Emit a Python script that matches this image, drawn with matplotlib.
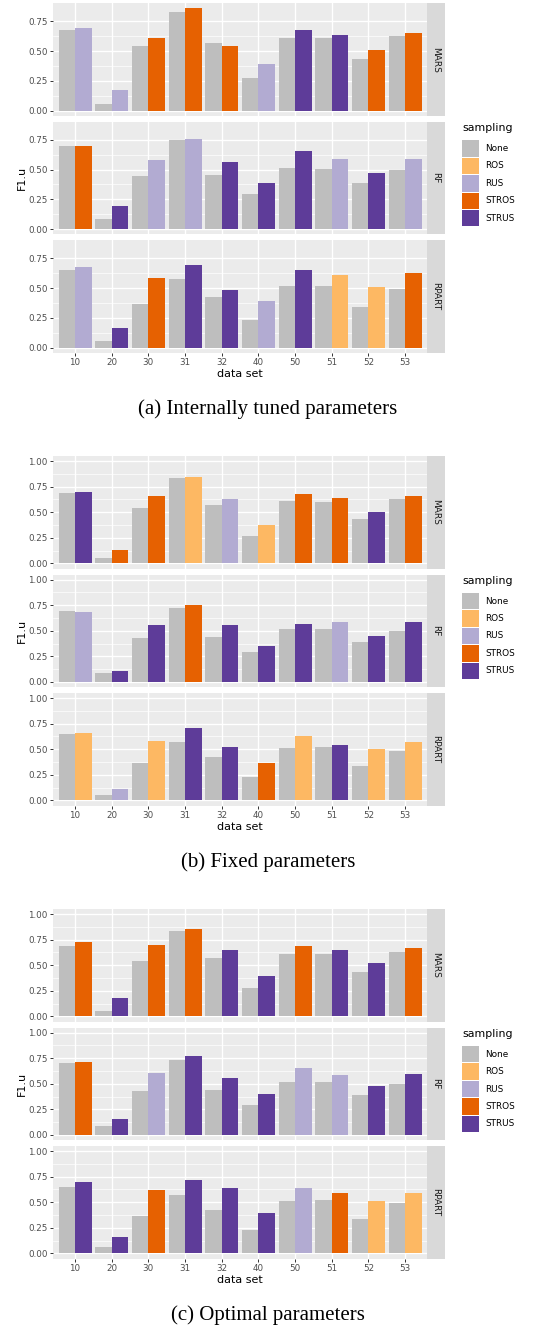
import numpy as np
import matplotlib
matplotlib.use('Agg')
import matplotlib.pyplot as plt
from matplotlib.patches import Rectangle

datasets = ['10', '20', '30', '31', '32', '40', '50', '51', '52', '53']
models = ['MARS', 'RF', 'RPART']
methods = ['None', 'ROS', 'RUS', 'STROS', 'STRUS']
colors = {'None': '#BEBEBE', 'ROS': '#FDB863', 'RUS': '#B2ABD2',
          'STROS': '#E66101', 'STRUS': '#5E3C99'}

# (a) internally tuned parameters
tuned_mars_none = [0.680, 0.053, 0.538, 0.831, 0.571, 0.270, 0.605, 0.605, 0.429, 0.630]
tuned_mars_best = [0.697, 0.170, 0.605, 0.857, 0.538, 0.388, 0.680, 0.638, 0.505, 0.647]
tuned_mars_samp = ['RUS', 'RUS', 'STROS', 'STROS', 'STROS', 'RUS', 'STRUS', 'STRUS', 'STROS', 'STROS']
tuned_rf_none = [0.694, 0.084, 0.443, 0.744, 0.452, 0.293, 0.510, 0.502, 0.385, 0.493]
tuned_rf_best = [0.694, 0.192, 0.577, 0.753, 0.560, 0.385, 0.652, 0.585, 0.468, 0.585]
tuned_rf_samp = ['STROS', 'STRUS', 'RUS', 'RUS', 'STRUS', 'STRUS', 'STRUS', 'RUS', 'STRUS', 'RUS']
tuned_rpart_none = [0.655, 0.053, 0.362, 0.572, 0.421, 0.229, 0.513, 0.521, 0.337, 0.488]
tuned_rpart_best = [0.680, 0.162, 0.580, 0.697, 0.480, 0.388, 0.655, 0.605, 0.505, 0.622]
tuned_rpart_samp = ['RUS', 'STRUS', 'STROS', 'STRUS', 'STRUS', 'RUS', 'STRUS', 'ROS', 'ROS', 'STROS']

# (b) fixed parameters
fixed_mars_none = [0.685, 0.052, 0.539, 0.831, 0.568, 0.266, 0.607, 0.597, 0.432, 0.627]
fixed_mars_best = [0.695, 0.130, 0.656, 0.841, 0.627, 0.373, 0.675, 0.636, 0.500, 0.656]
fixed_mars_samp = ['STRUS', 'STROS', 'STROS', 'ROS', 'RUS', 'ROS', 'STROS', 'STROS', 'STRUS', 'STROS']
fixed_rf_none = [0.698, 0.084, 0.425, 0.727, 0.435, 0.289, 0.513, 0.513, 0.386, 0.494]
fixed_rf_best = [0.688, 0.104, 0.552, 0.747, 0.552, 0.347, 0.562, 0.581, 0.445, 0.581]
fixed_rf_samp = ['RUS', 'STRUS', 'STRUS', 'STROS', 'STRUS', 'STRUS', 'STRUS', 'RUS', 'STRUS', 'STRUS']
fixed_rpart_none = [0.645, 0.049, 0.362, 0.567, 0.420, 0.225, 0.508, 0.518, 0.332, 0.479]
fixed_rpart_best = [0.655, 0.107, 0.577, 0.704, 0.518, 0.362, 0.625, 0.537, 0.498, 0.567]
fixed_rpart_samp = ['ROS', 'RUS', 'ROS', 'STRUS', 'STRUS', 'STROS', 'ROS', 'STRUS', 'ROS', 'ROS']

# (c) optimal parameters
optimal_mars_none = [0.686, 0.049, 0.539, 0.833, 0.569, 0.275, 0.608, 0.608, 0.431, 0.627]
optimal_mars_best = [0.725, 0.176, 0.696, 0.853, 0.647, 0.392, 0.686, 0.647, 0.520, 0.667]
optimal_mars_samp = ['STROS', 'STRUS', 'STROS', 'STROS', 'STRUS', 'STRUS', 'STROS', 'STRUS', 'STRUS', 'STROS']
optimal_rf_none = [0.699, 0.082, 0.425, 0.729, 0.435, 0.288, 0.513, 0.513, 0.386, 0.493]
optimal_rf_best = [0.709, 0.160, 0.601, 0.768, 0.552, 0.395, 0.650, 0.582, 0.474, 0.592]
optimal_rf_samp = ['STROS', 'STRUS', 'RUS', 'STRUS', 'STRUS', 'STRUS', 'RUS', 'RUS', 'STRUS', 'STRUS']
optimal_rpart_none = [0.646, 0.062, 0.364, 0.568, 0.422, 0.227, 0.510, 0.519, 0.334, 0.490]
optimal_rpart_best = [0.695, 0.159, 0.617, 0.714, 0.636, 0.393, 0.636, 0.588, 0.510, 0.588]
optimal_rpart_samp = ['STRUS', 'STRUS', 'STROS', 'STRUS', 'STRUS', 'STRUS', 'RUS', 'STROS', 'ROS', 'ROS']

sections = [
    ('(a) Internally tuned parameters',
     [(tuned_mars_none, tuned_mars_best, tuned_mars_samp),
      (tuned_rf_none, tuned_rf_best, tuned_rf_samp),
      (tuned_rpart_none, tuned_rpart_best, tuned_rpart_samp)], None),
    ('(b) Fixed parameters',
     [(fixed_mars_none, fixed_mars_best, fixed_mars_samp),
      (fixed_rf_none, fixed_rf_best, fixed_rf_samp),
      (fixed_rpart_none, fixed_rpart_best, fixed_rpart_samp)], (0, 1)),
    ('(c) Optimal parameters',
     [(optimal_mars_none, optimal_mars_best, optimal_mars_samp),
      (optimal_rf_none, optimal_rf_best, optimal_rf_samp),
      (optimal_rpart_none, optimal_rpart_best, optimal_rpart_samp)], (0, 1)),
]

W, H = 553, 1327
fig = plt.figure(figsize=(W / 100, H / 100), dpi=100)

def px_axes(x0, y0, x1, y1):
    # box in pixels, origin at the top left
    return fig.add_axes([x0 / W, 1 - y1 / H, (x1 - x0) / W, (y1 - y0) / H])

PX0, PX1, SX1 = 53, 427, 445
PANEL_H, GAP = 112.5, 6
tops = [3.3, 456, 909]
x = np.arange(1, len(datasets) + 1)

for (caption, panels, limits), top in zip(sections, tops):
    if limits is None:
        m = max(max(max(n), max(b)) for n, b, s in panels)
        limits = (0, m)
    span = limits[1] - limits[0]
    ylim = (limits[0] - 0.05 * span, limits[1] + 0.05 * span)
    yt = np.arange(0, limits[1] + 1e-9, 0.25)

    for i, (model, (none, best, samp)) in enumerate(zip(models, panels)):
        y0 = top + i * (PANEL_H + GAP)
        ax = px_axes(PX0, y0, PX1, y0 + PANEL_H)
        ax.set_facecolor('#EBEBEB')
        ax.set_axisbelow(True)
        ax.bar(x - 0.225, none, width=0.45, color=colors['None'])
        ax.bar(x + 0.225, best, width=0.45, color=[colors[s] for s in samp])
        ax.set_xlim(0.4, 10.6)
        ax.set_ylim(*ylim)
        ax.set_yticks(yt)
        ax.set_yticklabels(['%.2f' % v for v in yt])
        ax.set_yticks(yt[:-1] + 0.125, minor=True)
        ax.set_xticks(x)
        ax.grid(which='major', color='white', lw=1.0)
        ax.grid(which='minor', axis='y', color='white', lw=0.5)
        for sp in ax.spines.values():
            sp.set_visible(False)
        ax.tick_params(axis='y', which='major', labelsize=6.3, labelcolor='#4D4D4D',
                       color='#333333', length=2.2, width=0.7, pad=1.5)
        ax.tick_params(which='minor', length=0)
        if i == 2:
            ax.set_xticklabels(datasets)
            ax.tick_params(axis='x', labelsize=6.3, labelcolor='#4D4D4D',
                           color='#333333', length=2.2, width=0.7, pad=1.5)
            ax.set_xlabel('data set', fontsize=8, labelpad=1.5)
        else:
            ax.tick_params(axis='x', bottom=False, labelbottom=False)

        # facet strip
        st = px_axes(PX1, y0, SX1, y0 + PANEL_H)
        st.set_facecolor('#D9D9D9')
        st.set_xticks([])
        st.set_yticks([])
        for sp in st.spines.values():
            sp.set_visible(False)
        st.text(0.5, 0.5, model, rotation=270, ha='center', va='center',
                fontsize=6.5, color='#1A1A1A', transform=st.transAxes)

    rf_top = top + PANEL_H + GAP
    fig.text(22 / W, 1 - (rf_top + PANEL_H / 2) / H, 'F1.u', rotation=90,
             ha='center', va='center', fontsize=8)

    # legend
    fig.text(462 / W, 1 - (rf_top + 6.5) / H, 'sampling', ha='left', va='center',
             fontsize=7.9)
    lg = px_axes(455, rf_top + 18, 553, rf_top + 18 + 5 * 17.4)
    lg.set_xlim(455, 553)
    lg.set_ylim(5 * 17.4, 0)
    lg.axis('off')
    for k, meth in enumerate(methods):
        lg.add_patch(Rectangle((462.3, k * 17.4 + 0.5), 16.7, 16.4,
                               facecolor=colors[meth], edgecolor='none'))
        lg.text(485, k * 17.4 + 8.7, meth, ha='left', va='center', fontsize=6.4)

    fig.text(268 / W, 1 - (top + 406) / H, caption, ha='center', va='center',
             fontsize=15, family='Liberation Serif')

fig.savefig('out.png', dpi=100)
